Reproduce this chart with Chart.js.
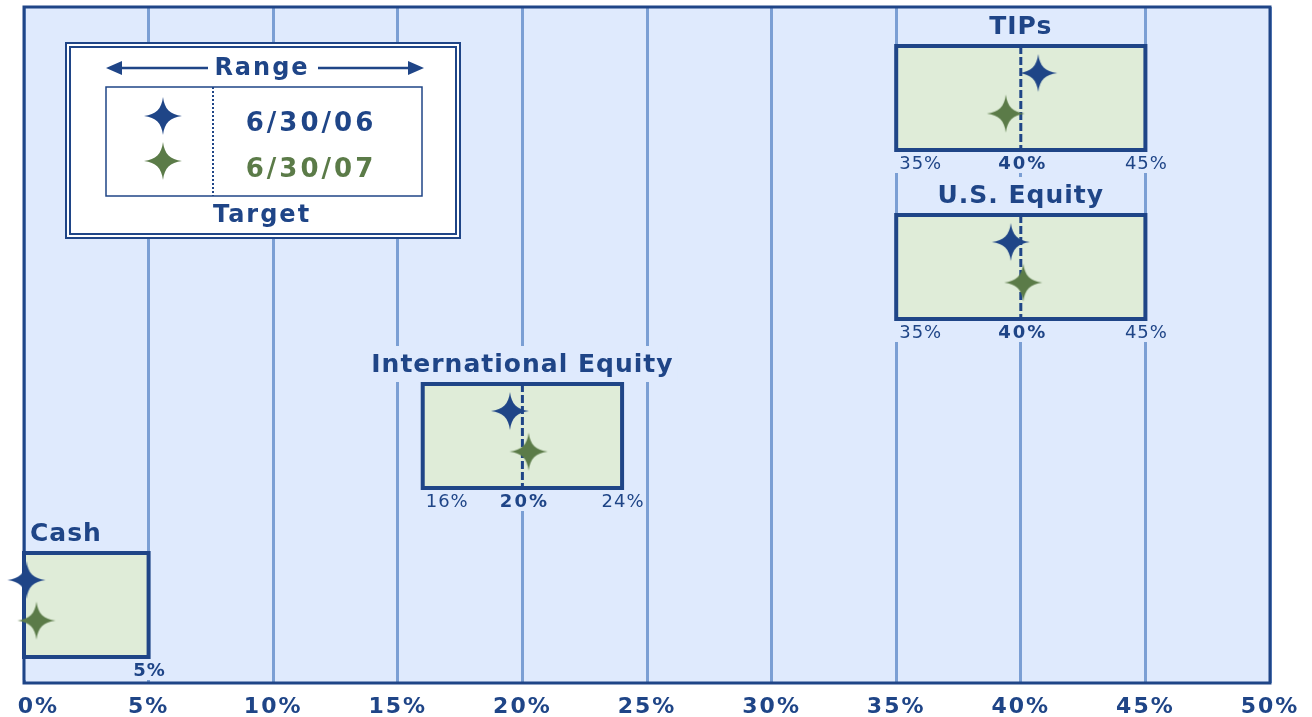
<!DOCTYPE html>
<html lang="en">
<head>
    <meta charset="UTF-8">
    <title>Asset Allocation vs Target Ranges</title>
    <script src="https://cdn.jsdelivr.net/npm/chart.js"></script>
    <style>
        body { margin: 0; background: #ffffff; }
        canvas { display: block; }
    </style>
</head>
<body>
<canvas id="allocChart" width="1312" height="717"></canvas>

<script>
    // asset classes, top row first
    const categories = ['TIPs', 'U.S. Equity', 'International Equity', 'Cash'];
    const rangeLow = [35, 35, 16, 0];
    const rangeHigh = [45, 45, 24, 5];
    const targets = [40, 40, 20, null];

    // actual allocation (%)
    const alloc063006 = [40.7, 39.6, 19.5, 0.1];
    const alloc063007 = [39.4, 40.1, 20.25, 0.5];

    const seriesLabels = ['6/30/06', '6/30/07'];
    const xMax = 50;
    const xStep = 5;

    const DARK = '#1f4587';
    const GREEN = '#5b7b48';
    const PLOT_BG = '#dfeafd';
    const BOX_FILL = '#dfecd8';
    const GRID = '#7b9fd4';
    const FONT = '"DejaVu Sans", Verdana, sans-serif';

    // each row gets 1 unit of height plus a gap for its title
    const ROW_STEP = 1.625;
    const rowBottom = i => 0.25 + (categories.length - 1 - i) * ROW_STEP;

    // 4 point star used as point style
    function makeStar(color) {
        const c = document.createElement('canvas');
        c.width = 40; c.height = 40;
        const g = c.getContext('2d');
        g.fillStyle = color;
        g.beginPath();
        g.moveTo(20, 1);
        g.bezierCurveTo(21.5, 13, 27, 18.5, 39, 20);
        g.bezierCurveTo(27, 21.5, 21.5, 27, 20, 39);
        g.bezierCurveTo(18.5, 27, 13, 21.5, 1, 20);
        g.bezierCurveTo(13, 18.5, 18.5, 13, 20, 1);
        g.fill();
        return c;
    }
    const star06 = makeStar(DARK);
    const star07 = makeStar(GREEN);

    const pts06 = alloc063006.map((v, i) => ({ x: v, y: rowBottom(i) + 0.74 }));
    const pts07 = alloc063007.map((v, i) => ({ x: v, y: rowBottom(i) + 0.35 }));

    function spacedText(ctx, txt, x, y, spacing) {
        ctx.letterSpacing = spacing + 'px';
        ctx.fillText(txt, x, y);
    }

    function drawLegendPanel(ctx, a) {
        const x = a.left + 42, y = a.top + 36, w = 394, h = 195;
        ctx.save();
        ctx.fillStyle = '#ffffff';
        ctx.fillRect(x, y, w, h);
        ctx.strokeStyle = DARK;
        ctx.lineWidth = 2;
        ctx.strokeRect(x, y, w, h);
        ctx.strokeRect(x + 4, y + 4, w - 8, h - 8);

        // inner box
        const ix = x + 40, iy = y + 44, iw = 316, ih = 109;
        ctx.lineWidth = 1.5;
        ctx.strokeRect(ix, iy, iw, ih);
        ctx.setLineDash([2, 2]);
        ctx.lineWidth = 2;
        ctx.beginPath();
        ctx.moveTo(ix + 107, iy);
        ctx.lineTo(ix + 107, iy + ih);
        ctx.stroke();
        ctx.setLineDash([]);

        // Range arrows
        const ay = y + 25;
        ctx.lineWidth = 2.5;
        ctx.beginPath();
        ctx.moveTo(ix + 12, ay); ctx.lineTo(ix + 102, ay);
        ctx.moveTo(ix + 212, ay); ctx.lineTo(ix + 305, ay);
        ctx.stroke();
        ctx.fillStyle = DARK;
        ctx.beginPath();
        ctx.moveTo(ix, ay); ctx.lineTo(ix + 16, ay - 7); ctx.lineTo(ix + 16, ay + 7); ctx.closePath();
        ctx.moveTo(ix + 318, ay); ctx.lineTo(ix + 302, ay - 7); ctx.lineTo(ix + 302, ay + 7); ctx.closePath();
        ctx.fill();

        ctx.textAlign = 'center';
        ctx.textBaseline = 'middle';
        ctx.font = 'bold 24px ' + FONT;
        spacedText(ctx, 'Range', x + 196, ay + 1, 2);
        spacedText(ctx, 'Target', x + 196, y + 173, 2);

        ctx.drawImage(star06, ix + 37, iy + 9);
        ctx.drawImage(star07, ix + 37, iy + 54);
        ctx.font = 'bold 26px ' + FONT;
        spacedText(ctx, seriesLabels[0], ix + 205, iy + 37, 3);
        ctx.fillStyle = GREEN;
        spacedText(ctx, seriesLabels[1], ix + 205, iy + 83, 3);
        ctx.restore();
    }

    const boxesPlugin = {
        id: 'boxes',
        beforeDraw(chart) {
            const { ctx, chartArea: a } = chart;
            ctx.save();
            ctx.fillStyle = PLOT_BG;
            ctx.fillRect(a.left, a.top, a.right - a.left, a.bottom - a.top);
            ctx.restore();
            ctx.letterSpacing = '2px';
        },
        beforeDatasetsDraw(chart) {
            const { ctx, chartArea: a } = chart;
            const xs = chart.scales.x, ys = chart.scales.y;
            ctx.save();
            categories.forEach((name, i) => {
                const x0 = xs.getPixelForValue(rangeLow[i]);
                const x1 = xs.getPixelForValue(rangeHigh[i]);
                const yTop = ys.getPixelForValue(rowBottom(i) + 1);
                const yBot = ys.getPixelForValue(rowBottom(i));

                // title with a background patch over the grid
                ctx.font = 'bold 25px ' + FONT;
                ctx.letterSpacing = '1px';
                const tw = ctx.measureText(name).width;
                const tx = rangeLow[i] === 0 ? x0 + 6 + tw / 2 : (x0 + x1) / 2;
                ctx.fillStyle = PLOT_BG;
                ctx.fillRect(tx - tw / 2 - 4, yTop - 38, tw + 8, 36);
                ctx.fillStyle = DARK;
                ctx.textAlign = 'center';
                ctx.textBaseline = 'middle';
                ctx.fillText(name, tx, yTop - 19);

                // range box
                ctx.fillStyle = BOX_FILL;
                ctx.fillRect(x0, yTop, x1 - x0, yBot - yTop);
                ctx.strokeStyle = DARK;
                ctx.lineWidth = 4;
                ctx.strokeRect(x0, yTop, x1 - x0, yBot - yTop);

                // target
                if (targets[i] !== null) {
                    const xt = xs.getPixelForValue(targets[i]);
                    ctx.setLineDash([8, 3]);
                    ctx.lineWidth = 3;
                    ctx.beginPath();
                    ctx.moveTo(xt, yTop);
                    ctx.lineTo(xt, yBot);
                    ctx.stroke();
                    ctx.setLineDash([]);
                }

                // range labels
                ctx.fillStyle = PLOT_BG;
                ctx.fillRect(x0 - 2, yBot + 2, x1 - x0 + 4, 21);
                ctx.fillStyle = DARK;
                const ly = yBot + 14;
                ctx.letterSpacing = '1px';
                if (rangeLow[i] > 0) {
                    ctx.font = '18px ' + FONT;
                    ctx.textAlign = 'left';
                    ctx.fillText(rangeLow[i] + '%', x0 + 3, ly);
                }
                ctx.font = (targets[i] === null ? 'bold ' : '') + '18px ' + FONT;
                ctx.textAlign = 'center';
                ctx.fillText(rangeHigh[i] + '%', x1 + 1, ly);
                if (targets[i] !== null) {
                    ctx.font = 'bold 18px ' + FONT;
                    ctx.letterSpacing = '2px';
                    ctx.fillText(targets[i] + '%', xs.getPixelForValue(targets[i]) + 2, ly);
                }
            });

            // plot frame
            ctx.strokeStyle = DARK;
            ctx.lineWidth = 3;
            ctx.strokeRect(a.left, a.top, a.right - a.left, a.bottom - a.top);

            drawLegendPanel(ctx, a);
            ctx.restore();
        },
        afterDraw(chart) {
            chart.ctx.letterSpacing = '0px';
        }
    };

    new Chart(document.getElementById('allocChart'), {
        type: 'scatter',
        data: {
            datasets: [
                { label: seriesLabels[0], data: pts06, pointStyle: star06, pointRadius: 20, clip: false },
                { label: seriesLabels[1], data: pts07, pointStyle: star07, pointRadius: 20, clip: false }
            ]
        },
        options: {
            responsive: false,
            animation: false,
            layout: { autoPadding: false, padding: { left: 24, right: 42, top: 7, bottom: 0 } },
            plugins: { legend: { display: false }, tooltip: { enabled: false } },
            scales: {
                x: {
                    min: 0,
                    max: xMax,
                    afterFit(scale) {
                        scale.paddingLeft = 0;
                        scale.paddingRight = 0;
                        scale.height = 34;
                    },
                    ticks: {
                        stepSize: xStep,
                        padding: 11,
                        color: DARK,
                        font: { family: FONT, size: 22, weight: 'bold' },
                        callback: v => (v === 0 ? '   ' : '') + v + '%',
                        maxRotation: 0
                    },
                    grid: { color: GRID, lineWidth: 3, drawTicks: false },
                    border: { display: false }
                },
                y: {
                    display: false,
                    min: 0,
                    max: 6.5
                }
            }
        },
        plugins: [boxesPlugin]
    });
</script>
</body>
</html>
